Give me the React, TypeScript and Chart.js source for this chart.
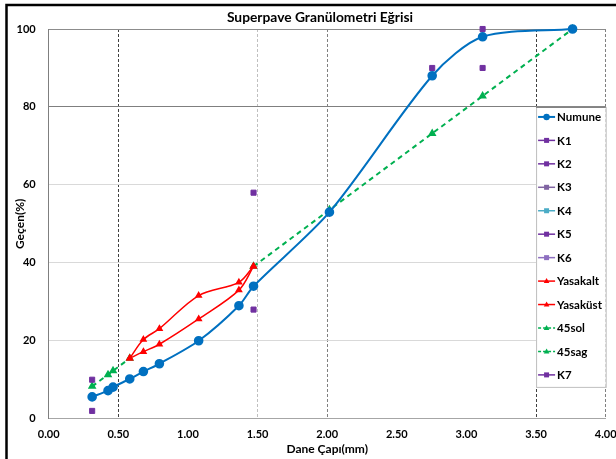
import React, { useEffect, useRef } from 'react';
import { Chart, registerables } from 'chart.js';

Chart.register(...registerables);

// ---- data (x = sieve size^0.45) ----
const sieveX = [0.312, 0.426, 0.462, 0.582, 0.68, 0.795, 1.077, 1.366, 1.471, 2.016, 2.754, 3.116, 3.762];
const numuneY = [5.6, 7.2, 8.1, 10.2, 12.1, 14.1, 20, 29, 34, 53, 88, 98, 100];

const zoneX = [0.582, 0.68, 0.795, 1.077, 1.366, 1.471];
const yasakAltY = [15.5, 17.2, 19.1, 25.6, 33, 39.1];
const yasakUstY = [15.5, 20.3, 23.1, 31.6, 35, 39.1];

const sol45X = [0.312, 0.426, 0.462, 0.582];
const sol45Y = [8.3, 11.3, 12.3, 15.5];
const sag45X = [1.471, 2.016, 2.754, 3.116, 3.762];
const sag45Y = [39.1, 53.6, 73.2, 82.8, 100];

const controlNames = ['K1', 'K2', 'K3', 'K4', 'K5', 'K6', 'K7'];
const controlX = [0.312, 0.312, 1.471, 1.471, 2.754, 3.116, 3.116];
const controlY = [10, 2, 28, 58, 90, 100, 90];
const controlLegendColors = ['#7030A0', '#7030A0', '#8064A2', '#4BACC6', '#7030A0', '#8E6FC0', '#7030A0'];

const xTickValues = [0, 0.5, 1, 1.5, 2, 2.5, 3, 3.5, 4];
const yTickValues = [0, 20, 40, 60, 80, 100];

const TITLE = 'Superpave Granülometri Eğrisi';
const X_TITLE = 'Dane Çapı(mm)';
const Y_TITLE = 'Geçen(%)';
const FONT = 'Lato, "Noto Sans", sans-serif';

const BLUE = '#0070C0';
const PURPLE = '#7030A0';
const RED = '#FF0000';
const GREEN = '#00B050';

const pts = (xs: number[], ys: number[]) => xs.map((x, i) => ({ x, y: ys[i] }));

function controlDataset(i: number) {
  return {
    label: controlNames[i],
    data: [{ x: controlX[i], y: controlY[i] }],
    showLine: false,
    clip: false,
    pointStyle: 'rect',
    pointRadius: 3.6,
    pointBackgroundColor: PURPLE,
    pointBorderColor: PURPLE,
    borderColor: controlLegendColors[i],
    backgroundColor: controlLegendColors[i],
    legendStyle: 'rect',
  };
}

const xGridColors: Record<string, string> = {
  '0.5': '#404040',
  '1.5': '#bfbfbf',
  '2': '#7f7f7f',
  '3.5': '#404040',
  '4': '#7f7f7f',
};
const yGridColors: Record<string, string> = {
  '20': '#d9d9d9',
  '40': '#d9d9d9',
  '60': '#d9d9d9',
  '80': '#7f7f7f',
  '100': '#8c8c8c',
};

const decorPlugin = {
  id: 'decor',
  afterDraw(chart: any) {
    const { ctx } = chart;
    const xs = chart.scales.x;
    const ys = chart.scales.y;
    ctx.save();
    // outer frame (left + top visible)
    ctx.strokeStyle = '#000';
    ctx.lineWidth = 2.5;
    ctx.beginPath();
    ctx.moveTo(6.5, 470);
    ctx.lineTo(6.5, 5);
    ctx.lineTo(640, 5);
    ctx.stroke();

    // title
    ctx.fillStyle = '#000';
    ctx.font = `bold 13.8px ${FONT}`;
    ctx.textAlign = 'center';
    ctx.textBaseline = 'middle';
    ctx.fillText(TITLE, 320, 18);

    // legend box
    const left = xs.getPixelForValue(3.5);
    const right = xs.getPixelForValue(4);
    const top = ys.getPixelForValue(80);
    const n = chart.data.datasets.length;
    const rowH = 23.45;
    const bottom = top + 10 + (n - 1) * rowH + 12;
    ctx.fillStyle = '#ffffff';
    ctx.fillRect(left, top, right - left, bottom - top);
    ctx.strokeStyle = '#bfbfbf';
    ctx.lineWidth = 1;
    ctx.strokeRect(left + 0.5, top + 0.5, right - left, bottom - top);
    ctx.strokeStyle = '#7f7f7f';
    ctx.beginPath();
    ctx.moveTo(left, top + 0.5);
    ctx.lineTo(right, top + 0.5);
    ctx.stroke();

    chart.data.datasets.forEach((ds: any, i: number) => {
      const cy = top + 10 + i * rowH;
      const x0 = left + 2;
      const x1 = left + 19;
      ctx.save();
      ctx.strokeStyle = ds.borderColor;
      ctx.lineWidth = ds.legendStyle === 'circle' ? 2 : 1.5;
      if (ds.borderDash) ctx.setLineDash([3, 2]);
      ctx.beginPath();
      ctx.moveTo(x0, cy);
      ctx.lineTo(x1, cy);
      ctx.stroke();
      ctx.setLineDash([]);
      ctx.fillStyle = ds.borderColor;
      const mx = (x0 + x1) / 2;
      ctx.beginPath();
      if (ds.legendStyle === 'circle') {
        ctx.arc(mx, cy, 3.2, 0, Math.PI * 2);
      } else if (ds.legendStyle === 'rect') {
        ctx.rect(mx - 2.5, cy - 2.5, 5, 5);
      } else {
        ctx.moveTo(mx, cy - 3);
        ctx.lineTo(mx + 2.8, cy + 2);
        ctx.lineTo(mx - 2.8, cy + 2);
        ctx.closePath();
      }
      ctx.fill();
      ctx.restore();
      ctx.fillStyle = '#000';
      ctx.font = `bold 11.5px ${FONT}`;
      ctx.textAlign = 'left';
      ctx.textBaseline = 'middle';
      ctx.fillText(ds.label, left + 21, cy + 0.5);
    });
    ctx.restore();
  },
};

export default function App() {
  const canvasRef = useRef<HTMLCanvasElement | null>(null);

  useEffect(() => {
    if (!canvasRef.current) return;
    const datasets: any[] = [
      {
        label: 'Numune',
        data: pts(sieveX, numuneY),
        showLine: true,
        clip: false,
        borderColor: BLUE,
        backgroundColor: BLUE,
        borderWidth: 2,
        pointStyle: 'circle',
        pointRadius: 3.8,
        pointBackgroundColor: BLUE,
        pointBorderColor: BLUE,
        tension: 0.28,
        legendStyle: 'circle',
      },
      ...[0, 1, 2, 3, 4, 5].map(controlDataset),
      {
        label: 'Yasakalt',
        data: pts(zoneX, yasakAltY),
        showLine: true,
        borderColor: RED,
        backgroundColor: RED,
        borderWidth: 1.5,
        tension: 0.33,
        pointStyle: 'triangle',
        pointRadius: 3,
        pointBackgroundColor: RED,
        pointBorderColor: RED,
        legendStyle: 'triangle',
      },
      {
        label: 'Yasaküst',
        data: pts(zoneX, yasakUstY),
        showLine: true,
        borderColor: RED,
        backgroundColor: RED,
        borderWidth: 1.5,
        tension: 0.33,
        pointStyle: 'triangle',
        pointRadius: 3,
        pointBackgroundColor: RED,
        pointBorderColor: RED,
        legendStyle: 'triangle',
      },
      {
        label: '45sol',
        data: pts(sol45X, sol45Y),
        showLine: true,
        borderColor: GREEN,
        backgroundColor: GREEN,
        borderWidth: 2,
        borderDash: [5, 4],
        pointStyle: 'triangle',
        pointRadius: 3,
        pointBackgroundColor: GREEN,
        pointBorderColor: GREEN,
        legendStyle: 'triangle',
      },
      {
        label: '45sag',
        data: pts(sag45X, sag45Y),
        showLine: true,
        clip: false,
        borderColor: GREEN,
        backgroundColor: GREEN,
        borderWidth: 2,
        borderDash: [5, 4],
        pointStyle: 'triangle',
        pointRadius: 3,
        pointBackgroundColor: GREEN,
        pointBorderColor: GREEN,
        legendStyle: 'triangle',
      },
      controlDataset(6),
    ];

    const chart = new Chart(canvasRef.current, {
      type: 'scatter',
      data: { datasets },
      plugins: [decorPlugin],
      options: {
        responsive: false,
        animation: false,
        devicePixelRatio: 1,
        layout: { padding: { left: 0, top: 29, right: 10.3, bottom: 0 } },
        plugins: {
          legend: { display: false },
          title: { display: false },
          tooltip: { enabled: false },
        },
        scales: {
          x: {
            type: 'linear',
            min: 0,
            max: 4,
            afterBuildTicks: (s: any) => {
              s.ticks = xTickValues.map((v) => ({ value: v }));
            },
            afterFit: (s: any) => {
              s.height = 40.3;
              s.paddingLeft = 0;
              s.paddingRight = 0;
            },
            ticks: {
              padding: 9,
              color: '#000',
              font: { family: FONT, size: 11, weight: 'bold' },
              callback: (v: any) => Number(v).toFixed(2),
              maxRotation: 0,
              autoSkip: false,
            },
            grid: {
              drawTicks: false,
              lineWidth: 1,
              color: (c: any) => xGridColors[String(c.tick?.value)] || 'rgba(0,0,0,0)',
            },
            border: { display: true, color: '#a6a6a6', width: 1, dash: [3, 2] },
            title: {
              display: true,
              text: X_TITLE,
              color: '#000',
              font: { family: FONT, size: 12, weight: 'bold' },
              padding: { top: 0, bottom: 3 },
            },
          },
          y: {
            type: 'linear',
            min: 0,
            max: 100,
            afterBuildTicks: (s: any) => {
              s.ticks = yTickValues.map((v) => ({ value: v }));
            },
            afterFit: (s: any) => {
              s.width = 48.7;
              s.paddingTop = 0;
              s.paddingBottom = 0;
            },
            ticks: {
              padding: 13,
              color: '#000',
              font: { family: FONT, size: 11, weight: 'bold' },
              callback: (v: any) => String(v),
            },
            grid: {
              drawTicks: false,
              lineWidth: 1,
              color: (c: any) => yGridColors[String(c.tick?.value)] || 'rgba(0,0,0,0)',
            },
            border: { display: true, color: '#7f7f7f', width: 1 },
            title: {
              display: true,
              text: Y_TITLE,
              color: '#000',
              font: { family: FONT, size: 12, weight: 'bold' },
              padding: { top: 12.5, bottom: 0 },
            },
          },
        },
      } as any,
    });
    return () => chart.destroy();
  }, []);

  return (
    <div style={{ position: 'fixed', left: 0, top: 0, width: 616, height: 459, background: '#fff' }}>
      <canvas ref={canvasRef} width={616} height={459} style={{ width: 616, height: 459, display: 'block' }} />
    </div>
  );
}
